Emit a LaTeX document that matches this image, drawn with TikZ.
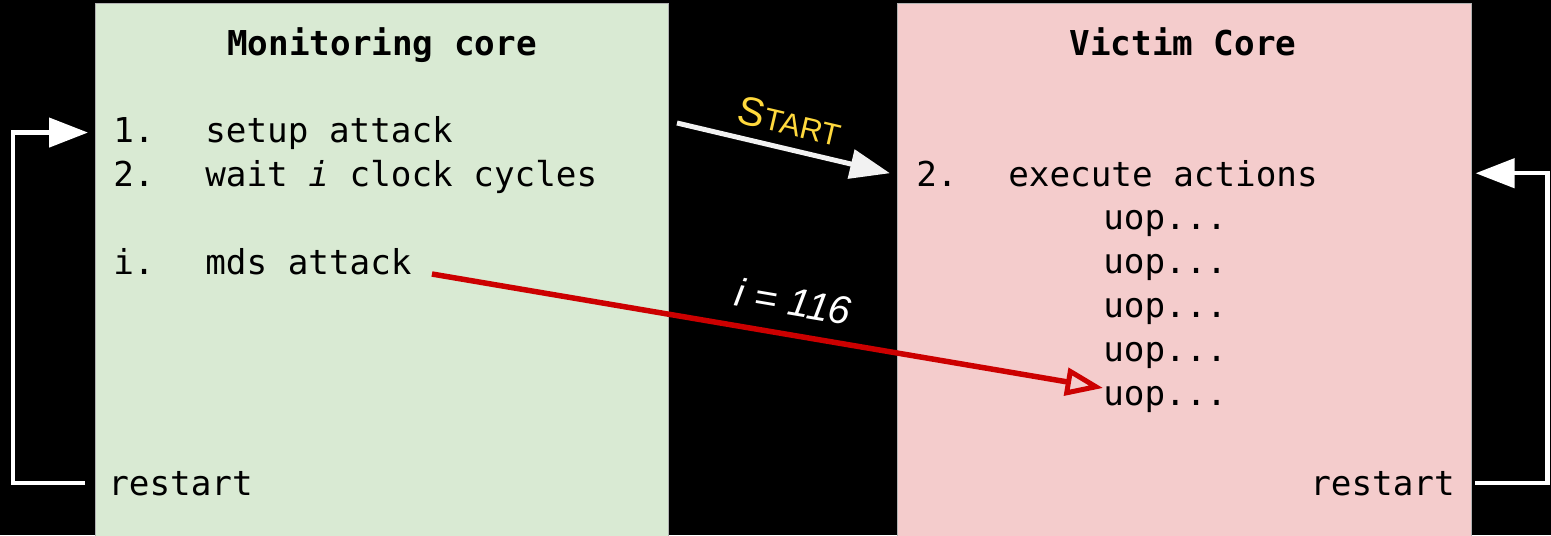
\documentclass[tikz,border=0pt]{standalone}
\usepackage{fontspec}
\setmonofont{DejaVu Sans Mono}
\setsansfont{Liberation Sans}
\usetikzlibrary{arrows.meta,positioning}
\definecolor{monitor}{HTML}{D9EAD3}
\definecolor{victim}{HTML}{F4CCCC}
\definecolor{hit}{HTML}{CC0000}
\definecolor{signal}{HTML}{FFD93D}
\newcommand{\lineno}[1]{\makebox[1.84cm][l]{#1}}

\begin{document}
\begin{tikzpicture}[
  x=0.02cm, y=-0.02cm,
  core/.style={draw=gray!60, line width=0.4pt, anchor=north west, inner sep=0pt,
               minimum height=10.7cm},
  head/.style={font=\ttfamily\bfseries\fontsize{19.5}{22}\selectfont, anchor=base, inner sep=0pt},
  code/.style={font=\ttfamily\fontsize{19.5}{22}\selectfont, anchor=base west, inner sep=0pt},
  loop/.style={draw=white, line width=0.09cm, -{Triangle[length=0.78cm,width=0.58cm]}},
  go/.style={draw=white!95!black, line width=0.1cm, -{Triangle[length=0.8cm,width=0.58cm]}},
  hitline/.style={draw=hit, line width=0.11cm, -{Triangle[open,length=0.75cm,width=0.55cm,line width=0.1cm]}}
]
  \fill[black] (0,0) rectangle (1551,535);
  \useasboundingbox (0,0) rectangle (1551,535);

  % the two cores
  \node[core, fill=monitor, minimum width=11.46cm] (mon) at (95,3) {};
  \node[core, fill=victim, minimum width=11.48cm] (vic) at (897,3) {};

  \node[head] (montitle) at (382,55) {Monitoring core};
  \node[head] (victitle) at (1183,55) {Victim Core};

  % monitoring core steps
  \node[code] (msetup) at (113,142) {\lineno{1.}setup attack};
  \node[code] (mwait) at (113,186) {\lineno{2.}wait \textit{i} clock cycles};
  \node[code] (mds) at (113,274) {\lineno{i.}mds attack};
  \node[code] (mrestart) at (108,495) {restart};

  % victim core steps
  \node[code] (exec) at (916,186) {\lineno{2.}execute actions};
  \node[code] (uop1) at (1103,229) {uop...};
  \node[code] (uop2) at (1103,273) {uop...};
  \node[code] (uop3) at (1103,317) {uop...};
  \node[code] (uop4) at (1103,361) {uop...};
  \node[code] (uop5) at (1103,405) {uop...};
  \node[code, anchor=base east] (vrestart) at (1455,495) {restart};

  % restart loops
  \draw[loop] ([xshift=-0.46cm]mrestart.west) -| ([xshift=-2cm]msetup.west)
    -- ([xshift=-0.5cm]msetup.west);
  \draw[loop] ([xshift=0.4cm]vrestart.east) -| ([xshift=1.52cm]vic.east |- exec.west)
    -- ([xshift=0.08cm]vic.east |- exec.west);

  % start signal
  \coordinate (golaunch) at (677,123);
  \draw[go] (golaunch) -- node[sloped, above=0.1cm, text=signal, font=\sffamily]
    {\fontsize{23}{26}\selectfont S\fontsize{17.5}{20}\selectfont TART}
    ([xshift=-0.14cm]vic.west |- exec.west);

  % sampled micro-op
  \draw[hitline] ([xshift=0.4cm]mds.base east) -- node[pos=0.53, sloped, above=0.2cm, text=white,
    font=\sffamily\itshape\fontsize{22.5}{26}\selectfont] {i = 116}
    ([yshift=0.22cm]uop5.west);
\end{tikzpicture}
\end{document}
